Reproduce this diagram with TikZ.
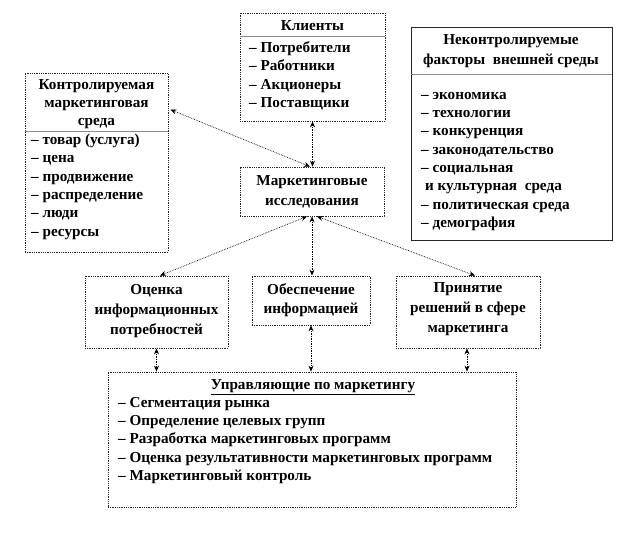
\documentclass[tikz,border=0pt]{standalone}
\usepackage{fontspec}
\setmainfont{Liberation Serif}
\usetikzlibrary{calc,arrows.meta}
\begin{document}
\begin{tikzpicture}[x=1pt,y=-1pt,
  box/.style={draw=black!85, densely dotted, line width=0.8pt, fill=white, inner sep=0pt},
  solidbox/.style={draw=black!85, line width=0.8pt, fill=white, inner sep=0pt},
  divider/.style={draw=black!45, line width=1.1pt},
  txt/.style={font=\fontsize{15.2}{17}\selectfont\bfseries, inner sep=0pt},
  item/.style={txt, anchor=mid west},
  ttl/.style={txt, anchor=mid},
  link/.style={densely dotted, line width=0.7pt, {Stealth[length=6pt,width=5pt]}-{Stealth[length=6pt,width=5pt]}}]
\useasboundingbox (0,0) rectangle (624,533);
% boxes
\node[box, minimum width=143pt, minimum height=179pt] (ctrl) at (96.5,162.5) {};
\node[box, minimum width=145pt, minimum height=108pt] (clients) at (312.5,67) {};
\node[solidbox, minimum width=201pt, minimum height=213pt] (unctrl) at (511.5,133.5) {};
\node[box, minimum width=144pt, minimum height=49pt] (research) at (312,191.5) {};
\node[box, minimum width=143pt, minimum height=72pt] (ocenka) at (156.5,312) {};
\node[box, minimum width=118pt, minimum height=49pt] (obesp) at (311,300.5) {};
\node[box, minimum width=144pt, minimum height=72pt] (prin) at (468,312) {};
\node[box, minimum width=408pt, minimum height=135pt] (upr) at (312,439.5) {};
% dividers
\draw[divider] ($(ctrl.north west)+(0,59)$) -- ($(ctrl.north east)+(0,59)$);
\draw[divider] ($(clients.north west)+(0,24)$) -- ($(clients.north east)+(0,24)$);
\draw[divider] ($(unctrl.north west)+(0,48)$) -- ($(unctrl.north east)+(0,48)$);
% controlled
\node[ttl] (c1) at (96.5,87) {Контролируемая};
\node[ttl] (c2) at (96.5,105) {маркетинговая};
\node[ttl] (c3) at (96.5,123) {среда};
\foreach \t [count=\i] in {{– товар (услуга)},{– цена},{– продвижение},{– распределение},{– люди},{– ресурсы}}
  \node[item] (ci\i) at (31,{142+18.4*(\i-1)}) {\t};
% clients
\node[ttl] (k1) at (312.5,28) {Клиенты};
\foreach \t [count=\i] in {{– Потребители},{– Работники},{– Акционеры},{– Поставщики}}
  \node[item] (ki\i) at (249,{50+18.4*(\i-1)}) {\t};
% uncontrolled
\node[ttl] (u1) at (511,42) {Неконтролируемые};
\node[ttl] (u2) at (511,62) {факторы\ \ внешней среды};
\foreach \t [count=\i] in {{– экономика},{– технологии},{– конкуренция},{– законодательство},{– социальная},{\ и культурная\ \ среда},{– политическая среда},{– демография}}
  \node[item] (ui\i) at (421,{97+18.3*(\i-1)}) {\t};
% research
\node[ttl] (r1) at (312,183) {Маркетинговые};
\node[ttl] (r2) at (312,203) {исследования};
% ocenka
\node[ttl] (o1) at (156.5,292) {Оценка};
\node[ttl] (o2) at (156.5,312) {информационных};
\node[ttl] (o3) at (156.5,332) {потребностей};
% obesp
\node[ttl] (b1) at (311,292) {Обеспечение};
\node[ttl] (b2) at (311,311) {информацией};
% prin
\node[ttl] (p1) at (468,290) {Принятие};
\node[ttl] (p2) at (468,310) {решений в сфере};
\node[ttl] (p3) at (468,330) {маркетинга};
% upr
\node[ttl] (m0) at (313,387) {\underline{Управляющие по маркетингу}};
\foreach \t [count=\i] in {{– Сегментация рынка},{– Определение целевых групп},{– Разработка маркетинговых программ},{– Оценка результативности маркетинговых программ},{– Маркетинговый контроль}}
  \node[item] (mi\i) at (118,{405+18.3*(\i-1)}) {\t};
% connectors
\draw[link] ($(ctrl.north east)+(2,37)$) -- ($(research.north)+(-2,0)$);
\draw[link] (clients.south) -- (clients.south |- research.north);
\draw[link] ($(research.south)+(-5,0)$) -- ($(ocenka.north)+(3.5,0)$);
\draw[link] (research.south) -- (research.south |- obesp.north);
\draw[link] ($(research.south)+(5,0)$) -- ($(prin.north)+(7,0)$);
\draw[link] (ocenka.south) -- (ocenka.south |- upr.north);
\draw[link] (obesp.south) -- (obesp.south |- upr.north);
\draw[link] ($(prin.south)+(-1,0)$) -- ($(prin.south |- upr.north)+(-1,0)$);
\end{tikzpicture}
\end{document}
